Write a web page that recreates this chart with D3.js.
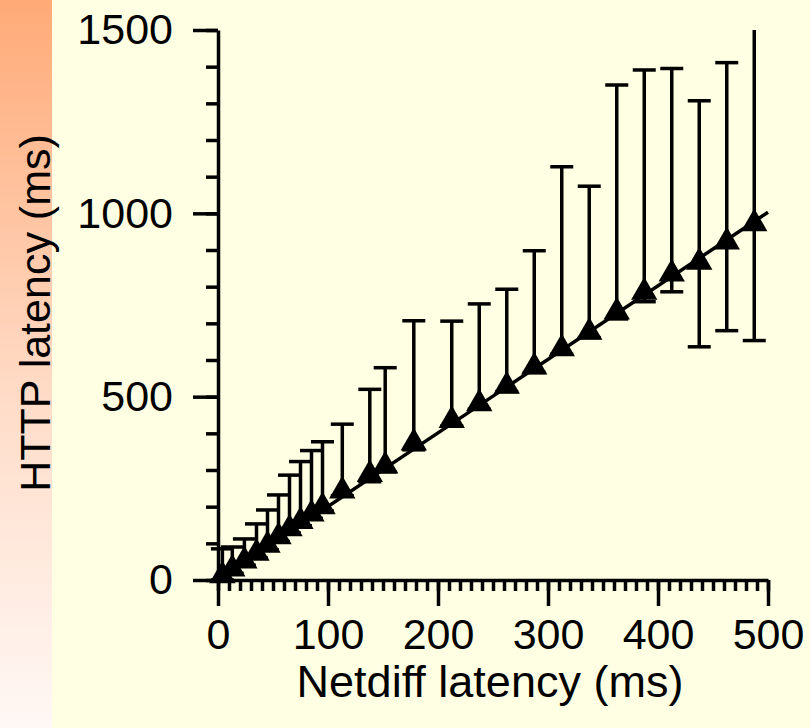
<!DOCTYPE html>
<html>
<head>
<meta charset="utf-8">
<script src="https://cdn.jsdelivr.net/npm/d3@7"></script>
<style>
  html, body { margin: 0; padding: 0; background: #FFFFE3; }
  svg { display: block; }
  text { font-family: "Liberation Sans", Arial, sans-serif; fill: #000; }
</style>
</head>
<body>
<div id="chart"></div>
<script>
// Netdiff latency (ms) bins
const netdiff = [4, 13, 24, 35, 45, 55, 65, 75, 85, 95, 113, 138, 152, 178,
  212.5, 237.5, 262.5, 287.5, 312.5, 337.5, 362.5, 387.5, 412.5, 437.5, 462.5, 487.5];
// HTTP latency (ms): mean, upper and lower error bar ends
const httpMean = [12, 30, 52, 73, 95, 118, 140, 160, 180, 200, 243, 288, 311, 374,
  435, 481, 529, 581, 631, 676, 731, 785, 835, 867, 922, 972];
const httpUpper = [85, 90, 112, 153, 191, 232, 286, 323, 353, 377, 425, 520, 579, 707,
  706, 753, 793, 898, 1127, 1074, 1350, 1391, 1395, 1307, 1411, 1560];
const httpLower = [0, 18, 40, 60, 82, 105, 128, 148, 168, 188, 230, 268, 295, 355,
  420, 466, 514, 566, 616, 661, 712, 759, 786, 636, 680, 653];
// straight trend line drawn through the markers
const trendX = [0, 500];
const trendY = [0, 1003];

const xTicks = [0, 100, 200, 300, 400, 500];
const yTicks = [0, 500, 1000, 1500];

const width = 810, height = 728;
const svg = d3.select("#chart").append("svg")
  .attr("width", width)
  .attr("height", height);

// orange side strip
const grad = svg.append("defs").append("linearGradient")
  .attr("id", "strip").attr("x1", 0).attr("y1", 0).attr("x2", 0).attr("y2", 1);
grad.append("stop").attr("offset", "0%").attr("stop-color", "#FFAA77");
grad.append("stop").attr("offset", "55%").attr("stop-color", "#FFDCC8");
grad.append("stop").attr("offset", "100%").attr("stop-color", "#FFF8F5");
svg.append("rect").attr("x", 0).attr("y", 0).attr("width", 52).attr("height", height)
  .attr("fill", "url(#strip)");

const x = d3.scaleLinear().domain([0, 500]).range([218, 768]);
const y = d3.scaleLinear().domain([0, 1500]).range([580, 30]);

// minor ticks
svg.append("g").attr("transform", "translate(0,580)")
  .call(d3.axisBottom(x).tickValues(d3.range(0, 501, 10)).tickSize(11).tickSizeOuter(0).tickFormat(""))
  .call(g => g.select(".domain").remove());
svg.append("g").attr("transform", "translate(218,0)")
  .call(d3.axisLeft(y).tickValues(d3.range(0, 1501, 100)).tickSize(12).tickSizeOuter(0).tickFormat(""))
  .call(g => g.select(".domain").remove());

// major ticks + labels
svg.append("g").attr("transform", "translate(0,580)")
  .call(d3.axisBottom(x).tickValues(xTicks).tickSize(26).tickSizeOuter(0).tickPadding(12)
    .tickFormat(d3.format("d")));
svg.append("g").attr("transform", "translate(218,0)")
  .call(d3.axisLeft(y).tickValues(yTicks).tickSize(25).tickSizeOuter(0).tickPadding(20)
    .tickFormat(d3.format("d")));

svg.selectAll(".tick line").attr("stroke", "#000").attr("stroke-width", 3.5);
svg.selectAll(".domain").attr("stroke", "#000").attr("stroke-width", 3.5);
svg.selectAll(".tick text")
  .style("font-family", '"Liberation Sans", Arial, sans-serif')
  .style("font-size", "43px");

// error bars
const bars = svg.append("g").attr("stroke", "#000").attr("stroke-width", 3.5);
netdiff.forEach((d, i) => {
  const top = Math.min(httpUpper[i], 1500);
  bars.append("line")
    .attr("x1", x(d)).attr("x2", x(d))
    .attr("y1", y(httpLower[i])).attr("y2", y(top));
  if (httpUpper[i] <= 1500) {
    bars.append("line")
      .attr("x1", x(d) - 11.5).attr("x2", x(d) + 11.5)
      .attr("y1", y(httpUpper[i])).attr("y2", y(httpUpper[i]));
  }
  bars.append("line")
    .attr("x1", x(d) - 11.5).attr("x2", x(d) + 11.5)
    .attr("y1", y(httpLower[i])).attr("y2", y(httpLower[i]));
});

// trend line
svg.append("path")
  .datum(trendX.map((d, i) => [d, trendY[i]]))
  .attr("fill", "none")
  .attr("stroke", "#000")
  .attr("stroke-width", 3.5)
  .attr("d", d3.line().x(d => x(d[0])).y(d => y(d[1])));

// triangle markers
svg.append("g").selectAll("path")
  .data(netdiff)
  .enter().append("path")
  .attr("transform", (d, i) => `translate(${x(d)},${y(httpMean[i])})`)
  .attr("d", d3.symbol().type(d3.symbolTriangle).size(300))
  .attr("fill", "#000");

// axis titles
svg.append("text")
  .attr("x", 490)
  .attr("y", 697)
  .attr("text-anchor", "middle")
  .style("font-size", "45px")
  .text("Netdiff latency (ms)");

svg.append("text")
  .attr("transform", "translate(50,313) rotate(-90)")
  .attr("text-anchor", "middle")
  .style("font-size", "43px")
  .text("HTTP latency (ms)");
</script>
</body>
</html>
